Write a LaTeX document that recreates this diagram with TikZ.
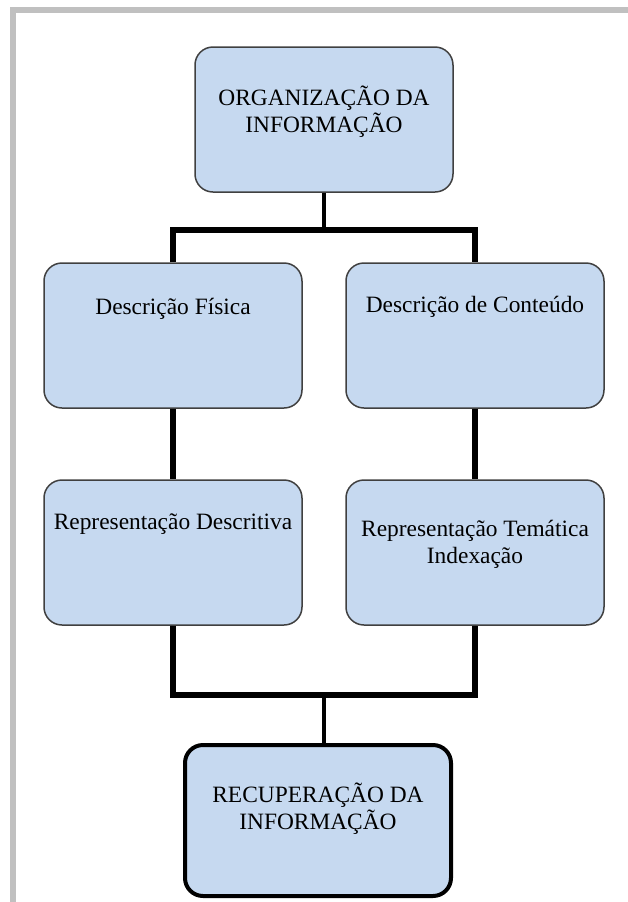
\documentclass[tikz,border=0pt]{standalone}
\usepackage{fontspec}
\setmainfont{Liberation Serif}
\usepackage{tikz}
\usetikzlibrary{calc, positioning}
\definecolor{boxfill}{RGB}{198,217,240}
\definecolor{framegray}{RGB}{192,192,192}
\tikzstyle{blk}=[draw=black!75, line width=0.75pt, fill=boxfill, rounded corners=9pt, minimum width=129pt, minimum height=72.5pt, align=center, inner sep=2pt, font=\fontsize{11.7}{13.5}\selectfont]
\tikzstyle{fin}=[blk, draw=black, line width=2pt, minimum width=133pt, minimum height=75.5pt]
\tikzstyle{wire}=[line width=2pt]
\tikzstyle{bar}=[line width=3pt]

\begin{document}
\begin{tikzpicture}[x=1pt,y=1pt]
        \useasboundingbox (0,0) rectangle (314,-451);
        \draw[framegray, line width=3pt] (314,-5) -- (6.25,-5) -- (6.25,-451);
        \node [blk, text depth=10pt] (org) at (162,-59.75) {ORGANIZAÇÃO DA\\INFORMAÇÃO};
        \node [blk, text height=9pt, text depth=29.9pt] (fis) at (86.5,-167.75) {Descrição Física};
        \node [blk, text height=9pt, text depth=31.9pt] (cont) [right of=fis, node distance=151pt] {Descrição de Conteúdo};
        \node [blk, text height=9pt, text depth=31.9pt] (rep) [below of=fis, node distance=108.5pt] {Representação Descritiva};
        \node [blk, text depth=10.5pt] (tem) [right of=rep, node distance=151pt] {Representação Temática\\Indexação};
        \node [fin, text depth=14.5pt] (rec) at (159,-410.25) {RECUPERAÇÃO DA\\INFORMAÇÃO};
        \coordinate (split) at (162,-114.75);
        \coordinate (merge) at (162,-347.5);
        \draw[wire] (org.south) -- (split);
        \draw[bar] (fis.north) |- (split) -| (cont.north);
        \draw[bar] (fis) -- (rep);
        \draw[bar] (cont) -- (tem);
        \draw[bar] (rep.south) |- (merge) -| (tem.south);
        \draw[wire] (merge) -- (merge |- rec.north);
\end{tikzpicture}
\end{document}
